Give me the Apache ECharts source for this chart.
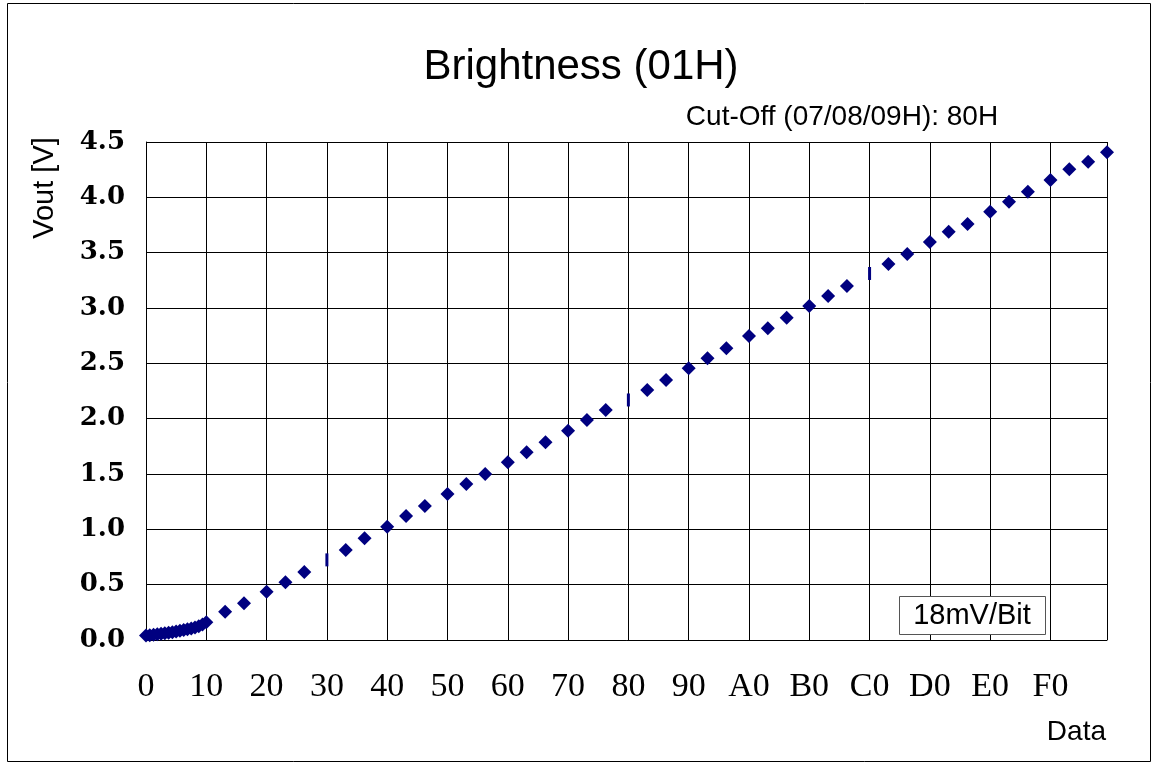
<!DOCTYPE html>
<html>
<head>
<meta charset="utf-8">
<script src="https://cdn.jsdelivr.net/npm/echarts@6/dist/echarts.min.js"></script>
<style>
html,body{margin:0;padding:0;background:#fff;}
#chart{width:1152px;height:765px;}
</style>
</head>
<body>
<div id="chart"></div>
<script>
// ---- data ----
const dataCodes = [
  0x00,0x01,0x02,0x03,0x04,0x05,0x06,0x07,0x08,0x09,0x0A,0x0B,0x0C,0x0D,0x0E,0x0F,0x10,
  0x15,0x1A,0x20,0x25,0x2A,0x30,0x35,0x3A,0x40,0x45,0x4A,0x50,0x55,0x5A,0x60,0x65,0x6A,
  0x70,0x75,0x7A,0x80,0x85,0x8A,0x90,0x95,0x9A,0xA0,0xA5,0xAA,0xB0,0xB5,0xBA,0xC0,0xC5,
  0xCA,0xD0,0xD5,0xDA,0xE0,0xE5,0xEA,0xF0,0xF5,0xFA,0xFF
];
const voutValues = [
  0.040,0.044,0.048,0.052,0.056,0.061,0.066,0.071,0.077,0.083,0.090,0.097,0.105,0.114,0.124,0.140,0.160,
  0.256,0.332,0.436,0.521,0.615,0.724,0.813,0.919,1.024,1.120,1.211,1.319,1.410,1.500,1.606,1.696,1.786,
  1.891,1.988,2.078,2.169,2.259,2.349,2.455,2.545,2.636,2.747,2.816,2.912,3.018,3.108,3.199,3.312,3.397,
  3.488,3.596,3.690,3.759,3.870,3.960,4.051,4.157,4.253,4.322,4.407
];
const xTickLabels = ['0','10','20','30','40','50','60','70','80','90','A0','B0','C0','D0','E0','F0'];
const yTickLabels = ['0.0','0.5','1.0','1.5','2.0','2.5','3.0','3.5','4.0','4.5'];
const titleText = 'Brightness (01H)';
const subtitleText = 'Cut-Off (07/08/09H): 80H';
const xAxisName = 'Data';
const yAxisName = 'Vout [V]';
const noteText = '18mV/Bit';
// codes whose marker appears as a thin sliver in the original
const thinCodes = [0x30, 0x80, 0xC0];

const seriesData = dataCodes.map((c, i) => [c, voutValues[i]]);

const chart = echarts.init(document.getElementById('chart'), null, {renderer: 'canvas'});
const option = {
  animation: false,
  backgroundColor: '#ffffff',
  grid: {left: 146, right: 45, top: 142, bottom: 125, show: false},
  xAxis: {
    type: 'value', min: 0, max: 255, interval: 16,
    axisLine: {show: true, lineStyle: {color: '#000', width: 1}},
    axisTick: {show: false},
    splitLine: {show: true, lineStyle: {color: '#000', width: 1}},
    axisLabel: {
      margin: 30,
      color: '#000',
      fontFamily: 'Liberation Serif',
      fontSize: 34,
      formatter: v => {
        const idx = Math.round(v / 16);
        return (v % 16 === 0 && idx < xTickLabels.length) ? xTickLabels[idx] : '';
      }
    }
  },
  yAxis: {
    type: 'value', min: 0, max: 4.5, interval: 0.5,
    axisLine: {show: true, lineStyle: {color: '#000', width: 1}},
    axisTick: {show: false},
    splitLine: {show: true, lineStyle: {color: '#000', width: 1}},
    axisLabel: {
      margin: 21,
      color: '#000',
      fontFamily: 'DejaVu Serif',
      fontWeight: 'bold',
      fontSize: 26,
      padding: [6, 0, 0, 0],
      formatter: v => yTickLabels[Math.round(v / 0.5)] || ''
    }
  },
  series: [{
    type: 'scatter',
    data: seriesData,
    symbol: (val) => thinCodes.includes(val[0]) ? 'rect' : 'diamond',
    symbolSize: (val) => thinCodes.includes(val[0]) ? [3, 13] : [14, 14],
    itemStyle: {color: '#000080', opacity: 1},
    z: 5
  }],
  graphic: [
    {type: 'rect', shape: {x: 7.5, y: 3.5, width: 1143, height: 758}, style: {fill: 'none', stroke: '#000', lineWidth: 1}, z: 0, silent: true},
    {type: 'text', x: 581, y: 67, style: {text: titleText, font: '42px "Liberation Sans"', fill: '#000', textAlign: 'center', textVerticalAlign: 'middle'}},
    {type: 'text', x: 842, y: 117, style: {text: subtitleText, font: '28px "Liberation Sans"', fill: '#000', textAlign: 'center', textVerticalAlign: 'middle'}},
    {type: 'text', x: 45, y: 188, rotation: Math.PI / 2, style: {text: yAxisName, font: '29px "Liberation Sans"', fill: '#000', textAlign: 'center', textVerticalAlign: 'middle'}},
    {type: 'text', x: 1106, y: 732, style: {text: xAxisName, font: '28px "Liberation Sans"', fill: '#000', textAlign: 'right', textVerticalAlign: 'middle'}},
    {type: 'rect', shape: {x: 899.5, y: 596.5, width: 146, height: 38}, style: {fill: '#fff', stroke: '#555', lineWidth: 1}, z: 10},
    {type: 'text', x: 972, y: 616, z: 11, style: {text: noteText, font: '29px "Liberation Sans"', fill: '#000', textAlign: 'center', textVerticalAlign: 'middle'}}
  ]
};
chart.setOption(option);
</script>
</body>
</html>
